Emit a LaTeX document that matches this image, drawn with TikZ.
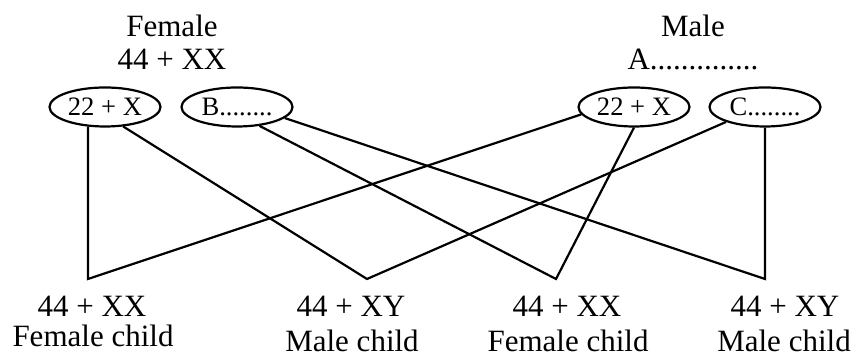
\documentclass[tikz,border=0pt]{standalone}
\usepackage{fontspec}
\setmainfont{Liberation Serif}
\usetikzlibrary{shapes.geometric,positioning,calc}

\begin{document}
\begin{tikzpicture}[x=0.5pt,y=-0.5pt,
  gam/.style={draw,ellipse,line width=1.1pt,minimum width=55.5pt,minimum height=19.5pt,
    inner sep=0pt,font=\fontsize{13.3}{15}\selectfont},
  txt/.style={anchor=base,inner sep=0pt,font=\fontsize{15.5}{18}\selectfont},
  link/.style={line width=1.1pt}]
  \useasboundingbox (0,0) rectangle (856,356);
  % parents
  \node[txt] (fem)  at (172,37) {Female};
  \node[txt] (femk) at (172,70) {44 + XX};
  \node[txt] (mal)  at (693,37) {Male};
  \node[txt] (malk) at (693,70) {A..............};
  % gametes
  \node[gam] (fx) at (105,107) {22 + X};
  \node[gam] (fb) at (237,107) {B........};
  \node[gam] (mx) at (634,107) {22 + X};
  \node[gam] (mc) at (765,107) {C........};
  % children
  \coordinate (c1) at (88,279);
  \coordinate (c2) at (367,279);
  \coordinate (c3) at (556,279);
  \coordinate (c4) at (765,279);
  \node[txt] (k1) at (92,317)  {44 + XX};
  \node[txt] (s1) at (93,347)  {Female child};
  \node[txt] (k2) at (351,317) {44 + XY};
  \node[txt] (s2) at (352,352) {Male child};
  \node[txt] (k3) at (567,317) {44 + XX};
  \node[txt] (s3) at (568,352) {Female child};
  \node[txt] (k4) at (785,317) {44 + XY};
  \node[txt] (s4) at (784,352) {Male child};
  % crosses
  \draw[link] (fx.229) -- (c1) -- (mx.188);
  \draw[link] (fx.313) -- (c2) -- (mc.201);
  \draw[link] (fb.320) -- (c3) -- (mx.south);
  \draw[link] (fb.347) -- (c4) -- (mc.south);
\end{tikzpicture}
\end{document}
